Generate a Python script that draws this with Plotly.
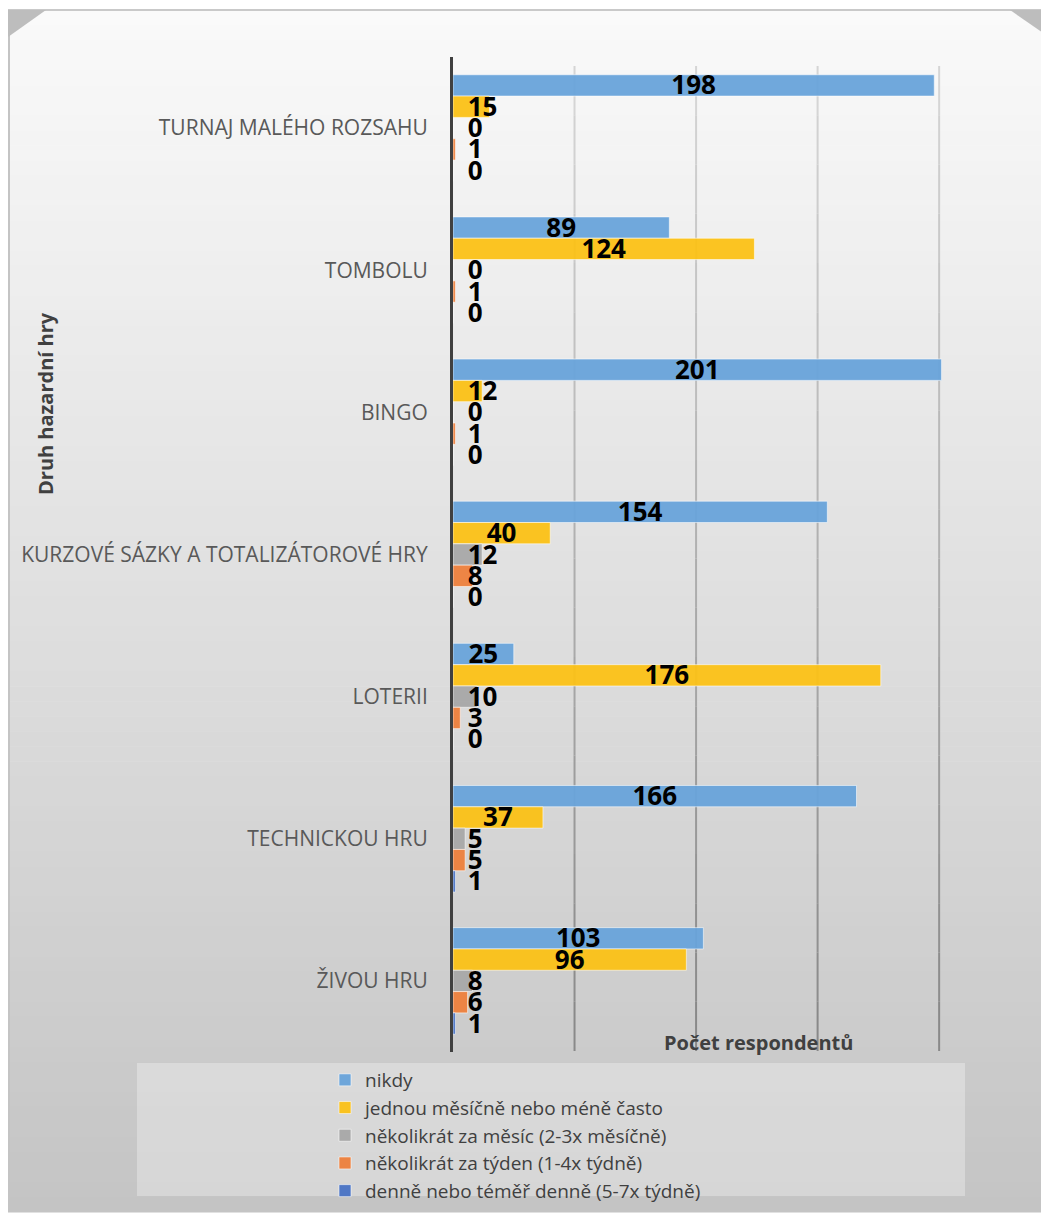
import plotly.graph_objects as go

categories = ["TURNAJ MALÉHO ROZSAHU", "TOMBOLU", "BINGO",
              "KURZOVÉ SÁZKY A TOTALIZÁTOROVÉ HRY", "LOTERII",
              "TECHNICKOU HRU", "ŽIVOU HRU"]
series_names = ["nikdy", "jednou měsíčně nebo méně často",
                "několikrát za měsíc (2-3x měsíčně)",
                "několikrát za týden (1-4x týdně)",
                "denně nebo téměř denně (5-7x týdně)"]
nikdy = [198, 89, 201, 154, 25, 166, 103]
jednou = [15, 124, 12, 40, 176, 37, 96]
mesicne = [0, 0, 0, 12, 10, 5, 8]
tydne = [1, 1, 1, 8, 3, 5, 6]
denne = [0, 0, 0, 0, 0, 1, 1]
series_values = [nikdy, jednou, mesicne, tydne, denne]
grid_ticks = [50, 100, 150, 200]

colors = ["rgba(104,163,218,0.95)", "rgba(251,193,22,0.95)", "rgba(168,168,168,0.95)",
          "rgba(237,128,60,0.95)", "rgba(72,114,196,0.95)"]

OFF = 8  # browser body margin
PAGE_W, PAGE_H = 1049, 1218
W, H = PAGE_W - OFF, PAGE_H - OFF
# plot area in page pixels
PL, PR, PT, PB = 453, 944, 57, 1052
L, R, T, B = PL - OFF, PR - OFF, PT - OFF, PB - OFF
XMAX = 202.0
PXU = (R - L) / XMAX
PYU = (B - T) / len(categories)
BAR_W = 0.15
N = len(series_values)
LABEL_DY = 2.5 / PYU


def px2x(px):
    return (px - PL) / (PR - PL)


def py2y(py):
    return (PB - py) / (PB - PT)


fig = go.Figure()
idx = list(range(len(categories)))
for k, (name, vals) in enumerate(zip(series_names, series_values)):
    ypos = [i + (k - (N - 1) / 2) * BAR_W for i in idx]
    fig.add_trace(go.Bar(
        x=vals, y=ypos, orientation="h", name=name, width=BAR_W,
        marker=dict(color=colors[k], line=dict(color="rgba(255,255,255,0.55)", width=1)),
        hoverinfo="x+name",
    ))

# data labels
for k, vals in enumerate(series_values):
    ypos = [i + (k - (N - 1) / 2) * BAR_W + LABEL_DY for i in idx]
    xs = [max(v / 2, (15 + len(str(v)) * 7.3) / PXU) for v in vals]
    fig.add_trace(go.Scatter(
        x=xs, y=ypos, mode="text", text=[str(v) for v in vals],
        textposition="middle center", showlegend=False, hoverinfo="skip",
        textfont=dict(family="Open Sans", size=26, color="#000000", weight="bold"),
        cliponaxis=False,
    ))

shapes = []
# background gradient
y0, y1 = 10, 1212
steps = 80
top_c = (250, 250, 250)
bot_c = (196, 196, 196)
for s in range(steps):
    a = y0 + (y1 - y0) * s / steps
    b = y0 + (y1 - y0) * (s + 1) / steps
    t = (s + 0.5) / steps
    c = tuple(int(round(top_c[j] + (bot_c[j] - top_c[j]) * t)) for j in range(3))
    shapes.append(dict(type="rect", xref="paper", yref="paper",
                       x0=px2x(8), x1=px2x(PAGE_W + 2), y0=py2y(a), y1=py2y(b + 0.6),
                       fillcolor="rgb(%d,%d,%d)" % c, line=dict(width=0), layer="below"))
# border lines
shapes.append(dict(type="line", xref="paper", yref="paper", x0=px2x(8), x1=px2x(PAGE_W), y0=py2y(10), y1=py2y(10),
                   line=dict(color="#c9c9c9", width=2), layer="below"))
shapes.append(dict(type="line", xref="paper", yref="paper", x0=px2x(9), x1=px2x(9), y0=py2y(10), y1=py2y(1212),
                   line=dict(color="#c4c4c4", width=2), layer="below"))


def tri(pts, col):
    p = "M " + " L ".join("%f,%f" % (px2x(a), py2y(b)) for a, b in pts) + " Z"
    return dict(type="path", xref="paper", yref="paper", path=p, fillcolor=col,
                line=dict(width=0), layer="below")


shapes.append(tri([(8, 10), (46, 10), (8, 37)], "#bdbdbd"))
shapes.append(tri([(PAGE_W, 10), (1010, 10), (PAGE_W, 37)], "#bdbdbd"))

# legend background box
shapes.append(dict(type="rect", xref="paper", yref="paper", x0=px2x(137), x1=px2x(965),
                   y0=py2y(1063), y1=py2y(1196), fillcolor="rgba(255,255,255,0.30)",
                   line=dict(width=0), layer="below"))

# gridlines with gradient shading
gtop, gbot = 66, 1051
gsteps = 20
for gv in grid_ticks:
    for s in range(gsteps):
        a = gtop + (gbot - gtop) * s / gsteps
        b = gtop + (gbot - gtop) * (s + 1) / gsteps
        t = (s + 0.5) / gsteps
        cval = int(round(215 - (215 - 135) * t))
        shapes.append(dict(type="line", xref="x", yref="paper", x0=gv, x1=gv,
                           y0=py2y(a), y1=py2y(b),
                           line=dict(color="rgb(%d,%d,%d)" % (cval, cval, cval), width=2),
                           layer="below"))

annotations = [
    dict(text="<b>Druh hazardní hry</b>", xref="paper", yref="paper", x=px2x(45), y=py2y(404),
         textangle=-90, showarrow=False, xanchor="center", yanchor="middle",
         font=dict(family="Open Sans", size=20, color="#404040")),
    dict(text="<b>Počet respondentů</b>", xref="paper", yref="paper", x=px2x(758), y=py2y(1042),
         showarrow=False, xanchor="center", yanchor="middle",
         font=dict(family="Open Sans", size=20, color="#404040")),
]

fig.update_layout(
    width=W, height=H,
    margin=dict(l=L, r=W - R, t=T, b=H - B, pad=0, autoexpand=False),
    paper_bgcolor="white", plot_bgcolor="rgba(0,0,0,0)",
    barmode="overlay",
    shapes=shapes, annotations=annotations,
    showlegend=True,
    legend=dict(x=px2x(325), y=py2y(1061),
                xanchor="left", yanchor="top", bgcolor="rgba(0,0,0,0)",
                font=dict(family="Open Sans", size=19, color="#404040"),
                tracegroupgap=0, itemwidth=30),
    font=dict(family="Open Sans"),
)
fig.update_xaxes(range=[0, XMAX], showgrid=False, zeroline=False, showticklabels=False,
                 showline=False, fixedrange=True, automargin=False)
fig.update_yaxes(range=[len(categories) - 0.5, -0.5], tickvals=idx, ticktext=categories,
                 showgrid=False, zeroline=False, showline=True, linecolor="#404040", linewidth=3,
                 ticks="", ticklabelstandoff=18, automargin=False,
                 tickfont=dict(family="Open Sans", size=21, color="#595959"))

fig.write_html("out.html")
